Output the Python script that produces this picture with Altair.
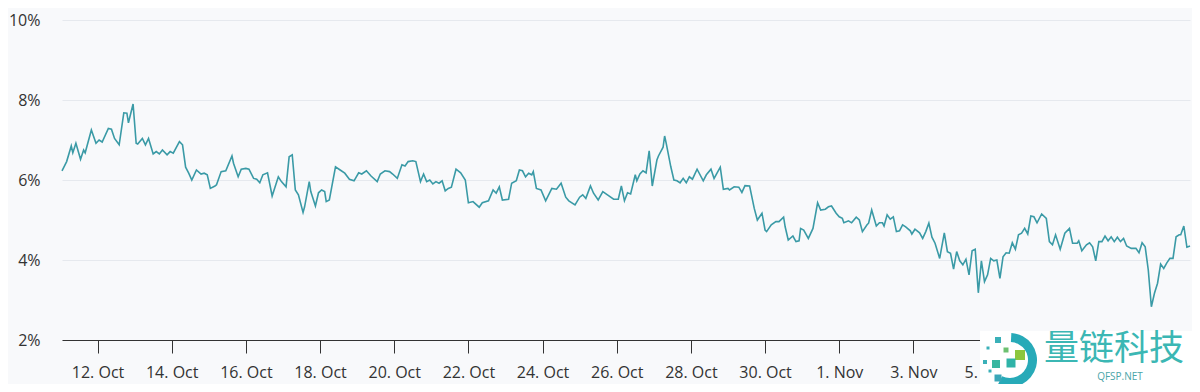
import altair as alt
import pandas as pd

# hours since 2023-10-11 00:00 and rate (%), by segment
hours_a = [1,4,7,8,10,13,15,16,20,23,25,27,31,33,35,38,41,43,44,47,49,50,53,55,57,60,62,64,66,69,
           71,73,77,79,81,83,85,88,91,93,95,97,100,101,104,107,111,112,115,117,120,122,125,127,129,131,134,137,141]
rate_a = [6.23,6.46,6.85,6.68,6.92,6.52,6.75,6.68,7.25,6.92,7.0,6.95,7.29,7.27,7.04,6.88,7.68,7.67,7.43,7.9,
          6.92,6.9,7.04,6.88,7.04,6.65,6.71,6.65,6.75,6.63,6.71,6.67,6.96,6.88,6.32,6.17,6.0,6.25,6.15,6.17,
          6.13,5.79,5.85,5.88,6.21,6.23,6.6,6.42,6.08,6.27,6.29,6.27,6.04,6.02,5.93,6.13,6.18,5.6,6.08]

hours_b = [143,146,148,150,152,154,157,158,161,162,165,167,169,171,172,174,178,181,184,187,
           190,193,195,198,201,205,207,210,213,215,218,221,223,225,228,230,233,235,237,239,
           241,243,245,247,249,251,253,256,259,262,264,267,271,273,277,280,282,284,286,290,292,295]
rate_b = [5.96,5.83,6.58,6.63,5.75,5.63,5.19,5.33,5.96,5.71,5.35,5.68,5.75,5.71,5.46,5.5,6.33,6.25,6.17,6.02,
          5.98,6.18,6.15,6.23,6.1,5.96,6.15,6.23,6.21,6.15,6.04,6.38,6.35,6.46,6.48,6.46,5.96,6.15,5.96,6.0,
          5.9,5.96,5.92,5.98,5.73,5.79,5.82,6.27,6.18,6.0,5.43,5.46,5.32,5.43,5.48,5.75,5.67,5.83,5.5,5.52,5.92,5.98]

hours_c = [297,299,301,303,305,306,308,311,314,318,321,324,327,329,333,336,338,340,343,345,
           348,351,354,358,361,363,365,367,369,372,373,375,377,379,381,383,386,387,390,391,
           392,395,397,399,401,403,405,407,409,412,416,418,421,423,427,429,432,433,436,439,441,443,446]
rate_c = [6.25,6.23,6.08,6.17,6.13,6.21,5.79,5.75,5.48,5.79,5.77,5.92,5.57,5.48,5.38,5.57,5.63,5.54,5.85,5.67,
          5.5,5.71,5.63,5.52,5.52,5.85,5.48,5.68,5.65,6.13,5.98,6.15,6.23,6.18,6.73,5.85,6.5,6.6,6.82,7.1,
          6.92,6.33,6.0,5.98,5.93,6.04,5.93,6.08,6.02,6.27,5.98,6.13,6.27,6.04,6.32,5.77,5.79,5.75,5.83,5.82,
          5.69,5.86,5.85]

hours_d = [449,451,454,456,457,460,463,465,468,469,471,474,476,478,479,481,484,487,490,492,
           495,497,499,502,504,506,507,510,512,515,517,519,522,523,525,528,530,532,533,535,
           537,539,541,543,545,547,550,551,553,556,558,560,562,564,566,569]
rate_d = [5.29,5.0,5.17,4.75,4.71,4.88,4.96,4.96,5.07,4.83,4.5,4.6,4.46,4.48,4.79,4.75,4.54,4.79,5.43,5.25,
          5.27,5.33,5.35,5.17,5.08,5.04,4.93,4.98,4.93,5.07,5.0,4.71,4.88,4.92,5.25,4.85,4.93,4.93,4.85,5.13,
          5.02,5.08,4.71,4.73,4.88,4.83,4.73,4.65,4.77,4.68,4.54,4.71,4.92,4.57,4.42,4.04]

hours_e = [572,574,576,578,580,582,584,586,588,590,592,594,596,598,600,602,604,606,608,610,
           612,614,616,618,620,622,624,626,628,630,632,635,638,640,642,644,647,650,653,655,
           658,659,661,664,666,668,670,672,674,676,678,680,682,684,686,688,690,693,696,698,
           700,702,704,706,708,710,712,714,716,718,720,722,724,725,727,729,731]
rate_e = [4.68,4.21,4.17,3.77,4.21,3.98,3.88,4.02,3.63,4.23,4.27,3.18,3.98,3.46,3.63,4.04,3.98,4.0,3.54,4.08,
          4.18,4.17,4.43,4.27,4.63,4.67,4.79,4.65,5.1,5.08,4.93,5.15,5.04,4.46,4.38,4.63,4.27,4.67,4.79,4.42,
          4.42,4.48,4.23,4.38,4.43,4.33,3.98,4.46,4.46,4.6,4.48,4.58,4.46,4.57,4.46,4.54,4.35,4.29,4.29,4.18,
          4.43,4.33,3.75,2.83,3.17,3.42,3.9,3.79,3.93,4.04,4.04,4.58,4.63,4.63,4.85,4.32,4.35]

start = "2023-10-11 00:00"
# 7 Nov / 9 Nov ticks sit under the watermark in the reference, so they are not drawn
tick_days = ["2023-10-12","2023-10-14","2023-10-16","2023-10-18","2023-10-20","2023-10-22",
             "2023-10-24","2023-10-26","2023-10-28","2023-10-30","2023-11-01","2023-11-03",
             "2023-11-05"]
y_ticks = [2, 4, 6, 8, 10]

hours = hours_a + hours_b + hours_c + hours_d + hours_e
rate = rate_a + rate_b + rate_c + rate_d + rate_e
df = pd.DataFrame({
    "t": pd.Timestamp(start) + pd.to_timedelta(hours, unit="h"),
    "v": rate,
})

tick_values = [alt.DateTime(year=d.year, month=d.month, date=d.day)
               for d in pd.to_datetime(tick_days)]

FONT = "Open Sans"
line = alt.Chart(df).mark_line(color="#3a9aa6", strokeWidth=1.6).encode(
    x=alt.X("t:T", title=None, scale=alt.Scale(nice=False),
            axis=alt.Axis(values=tick_values, format="%-d. %b", grid=False,
                          domainColor="#333333", tickColor="#333333", tickSize=13,
                          labelFontSize=16, labelColor="#333333", labelFont=FONT,
                          labelPadding=11, labelFlush=False, labelOverlap=False)),
    y=alt.Y("v:Q", title=None, scale=alt.Scale(domain=[2, 10], nice=False, zero=False),
            axis=alt.Axis(values=y_ticks, labelExpr="datum.value + '%'", grid=True,
                          gridColor="#e6e9ee", domain=False, ticks=False, tickSize=0,
                          labelFontSize=16, labelColor="#333333", labelFont=FONT,
                          labelPadding=22)),
)

one = pd.DataFrame({"k": [0]})
# watermark (page coords minus plot origin 62,20)
box = alt.Chart(one).mark_rect(color="white").encode(
    x=alt.value(918), x2=alt.value(1140), y=alt.value(311), y2=alt.value(372))
arc = alt.Chart(one).mark_arc(theta=0.05, theta2=3.6, radius=27, radius2=18, color="#27aab8").encode(
    x=alt.value(948), y=alt.value(340))
sq_x = [936, 926, 958, 949, 934, 923, 936, 928, 944]
sq_y = [320, 328, 335, 343, 344, 342, 358, 351, 330]
sq_s = [36, 9, 100, 81, 64, 16, 49, 9, 25]
sq_c = ["#3ab0b8", "#3ab0b8", "#8cc63e", "#2fb3a8", "#38b6a0", "#3ab0b8", "#3aa7b8", "#3ab0b8", "#6cc070"]
squares = [alt.Chart(one).mark_square(size=s, color=c, opacity=1).encode(x=alt.value(a), y=alt.value(b))
           for a, b, s, c in zip(sq_x, sq_y, sq_s, sq_c)]
brand = alt.Chart(one).mark_text(text="量链科技", font="Noto Sans CJK SC", fontSize=35,
                                 color="#3bb7b4", align="center", baseline="middle").encode(
    x=alt.value(1052), y=alt.value(329))
site = alt.Chart(one).mark_text(text="QFSP.NET", font=FONT, fontSize=10,
                                color="#4aa5a8", align="center", baseline="middle").encode(
    x=alt.value(1058), y=alt.value(357))

chart = alt.layer(line, box, arc, *squares, brand, site).properties(
    width=1128, height=320,
    autosize=alt.AutoSizeParams(type="none"),
    padding={"left": 54, "top": 12, "right": 2, "bottom": 44},
).configure(background="#f8f9fb").configure_view(stroke=None)

chart.save("out.html", embed_options={"renderer": "svg", "actions": False})
